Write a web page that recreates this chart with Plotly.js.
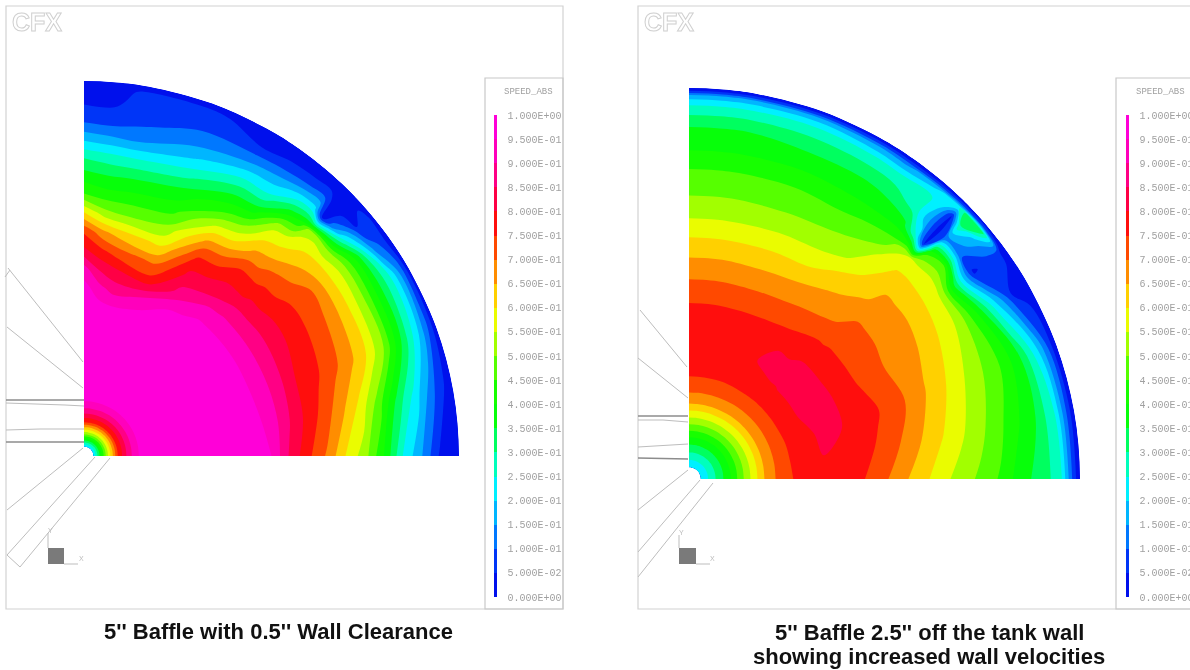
<!DOCTYPE html>
<html>
<head>
<meta charset="utf-8">
<script src="https://cdn.plot.ly/plotly-3.0.1.min.js"></script>
<style>
html,body{margin:0;padding:0;background:#fff;overflow:hidden}
#plot{width:1190px;height:670px}
.annotation-text{filter:blur(0.5px)}
.annotation-text[data-unformatted="<b>CFX</b>"]{fill:#fff !important;stroke:#d0d0d0;stroke-width:1px}
.contourcarpetlayer,.contourlayer,.cbfills,.colorbar text{filter:blur(0.6px)}
</style>
</head>
<body>
<div id="plot"></div>
<script>
// Band colours from 0 to 1 in steps of 0.05
const bandColors = ['#0010ec','#0050ff','#0090ff','#00c8ff','#00ffff','#00ffa8','#00ff50','#08ff00','#18ff00','#58ff00','#a0ff00','#e8ff00','#ffd800','#ff9800','#ff5800','#ff1400','#ff0030','#ff0070','#ff00a8','#ff00d8'];
const tickValues = [0,0.05,0.1,0.15,0.2,0.25,0.3,0.35,0.4,0.45,0.5,0.55,0.6,0.65,0.7,0.75,0.8,0.85,0.9,0.95,1];
const tickLabels = ['0.000E+00','5.000E-02','1.000E-01','1.500E-01','2.000E-01','2.500E-01','3.000E-01','3.500E-01','4.000E-01','4.500E-01','5.000E-01','5.500E-01','6.000E-01','6.500E-01','7.000E-01','7.500E-01','8.000E-01','8.500E-01','9.000E-01','9.500E-01','1.000E+00'];
const thetas = [0,10,20,30,36,40,43,45,47,50,55,60,70,80,85,90];

// Left panel: speed along each ray (rows = thetas, columns = ringsLeft)
const ringsLeft = [0.025,0.06,0.09,0.12,0.15,0.2,0.3,0.4,0.45,0.5,0.55,0.6,0.65,0.7,0.75,0.8,0.85,0.9,0.95,0.98,1];
const hubLeft = [0.2,0.52,0.75,0.88,0.96,0.97,0.97];
const speedLeft = [
 [.97,.97,.95,.84,.76,.69,.595,.52,.40,.25,.155,.04,.02,.005],
 [.97,.97,.94,.86,.79,.73,.66,.58,.47,.33,.22,.10,.04,.01],
 [.97,.97,.93,.87,.80,.765,.72,.67,.60,.50,.35,.20,.09,.01],
 [.97,.97,.93,.87,.82,.77,.74,.69,.62,.52,.38,.24,.12,.015],
 [.97,.97,.93,.87,.82,.77,.74,.70,.62,.53,.38,.13,.07,.015],
 [.97,.97,.93,.87,.81,.76,.72,.67,.62,.50,.25,.05,.08,.02],
 [.97,.97,.93,.87,.81,.76,.71,.65,.60,.53,.12,.03,.03,.01],
 [.97,.97,.93,.87,.80,.75,.70,.63,.58,.52,.03,.02,.02,.01],
 [.97,.97,.93,.86,.80,.75,.68,.62,.55,.42,.22,.08,.03,.01],
 [.97,.97,.93,.85,.80,.75,.67,.60,.53,.37,.22,.07,.03,.01],
 [.97,.96,.90,.83,.78,.70,.60,.50,.38,.26,.17,.06,.03,.01],
 [.97,.95,.87,.82,.77,.68,.57,.45,.36,.26,.15,.05,.03,.01],
 [.97,.90,.77,.69,.59,.51,.43,.37,.28,.19,.12,.075,.06,.02],
 [.96,.88,.81,.72,.62,.50,.42,.35,.26,.15,.09,.07,.06,.02],
 [.97,.92,.84,.76,.66,.52,.42,.35,.27,.16,.07,.04,.03,.02],
 [.97,.97,.92,.81,.74,.60,.45,.37,.29,.18,.08,.04,.03,.02]
];

// Right panel
const ringsRight = [0.03,0.06,0.1,0.15,0.2,0.25,0.3,0.35,0.4,0.45,0.5,0.55,0.6,0.65,0.7,0.75,0.8,0.85,0.9,0.95,0.98,0.99,1];
const hubRight = [0.2,0.28,0.38,0.53,0.67,0.74];
const speedRight = [
 [.77,.77,.77,.75,.71,.66,.615,.565,.525,.485,.44,.37,.33,.27,.10,.05,.005],
 [.78,.80,.785,.77,.74,.70,.655,.61,.565,.52,.47,.41,.35,.25,.10,.05,.005],
 [.78,.805,.81,.78,.76,.73,.69,.645,.60,.55,.50,.445,.36,.21,.09,.04,.005],
 [.79,.815,.815,.78,.745,.71,.69,.665,.635,.585,.535,.40,.22,.05,.03,.02,.005],
 [.79,.815,.815,.775,.745,.715,.695,.67,.645,.60,.54,.30,.04,.08,.06,.03,.005],
 [.79,.815,.815,.775,.745,.72,.695,.67,.645,.605,.56,.45,.12,.18,.32,.10,.005],
 [.79,.815,.815,.775,.745,.72,.695,.67,.645,.61,.55,.42,.12,.30,.35,.10,.005],
 [.79,.815,.815,.775,.74,.71,.685,.65,.63,.605,.55,.05,.03,.05,.25,.10,.005],
 [.79,.81,.81,.775,.74,.70,.675,.64,.615,.58,.54,.25,.15,.20,.22,.08,.005],
 [.79,.81,.80,.77,.735,.69,.66,.625,.585,.55,.47,.37,.28,.27,.18,.07,.005],
 [.79,.805,.80,.76,.725,.68,.645,.60,.54,.50,.45,.38,.33,.25,.14,.06,.005],
 [.79,.80,.785,.755,.715,.675,.63,.57,.53,.485,.44,.385,.34,.26,.15,.07,.005],
 [.78,.78,.775,.75,.71,.665,.62,.57,.52,.48,.445,.39,.34,.27,.17,.07,.005],
 [.78,.78,.77,.75,.71,.665,.62,.565,.52,.48,.445,.39,.35,.27,.17,.07,.005],
 [.78,.78,.77,.75,.71,.665,.62,.565,.52,.48,.445,.39,.35,.27,.17,.07,.005],
 [.78,.78,.77,.75,.71,.665,.62,.565,.52,.48,.445,.39,.35,.27,.17,.07,.005]
];

const W = 1190, H = 670;
const px = v => v / W, py = v => 1 - v / H;
const leftP = {cx:84, cy:456, R:375, x0:6, x1:563};
const rightP = {cx:689, cy:479, R:391, x0:638, x1:1190};
const frameTop = 6, frameBottom = 609;

// Colour scale laid out so each contour band takes its own colour
const colorscale = [[0,bandColors[0]]];
bandColors.forEach((c,k) => colorscale.push([(k+1)/21,c]));
colorscale.push([1,bandColors[19]]);

function panel(name, rings, hub, rows, xa, ya, barX) {
  const X = thetas.map(t => rings.map(r => r*Math.cos(t*Math.PI/180)));
  const Y = thetas.map(t => rings.map(r => r*Math.sin(t*Math.PI/180)));
  const hidden = {showgrid:false,showline:false,showticklabels:'none',startline:false,endline:false,minorgridcount:0,ticks:''};
  return [
    {type:'carpet',carpet:name,a:rings,b:thetas,x:X,y:Y,xaxis:xa,yaxis:ya,
     aaxis:Object.assign({smoothing:0},hidden),baxis:Object.assign({smoothing:1},hidden)},
    {type:'contourcarpet',carpet:name,a:rings,b:thetas,z:rows.map(r => hub.concat(r)),xaxis:xa,yaxis:ya,
     autocontour:false,contours:{start:0,end:1,size:0.05,coloring:'fill',showlines:false},line:{width:0},
     colorscale:colorscale,zmin:0,zmax:1,zauto:false,showscale:true,
     colorbar:{thicknessmode:'pixels',thickness:3,lenmode:'pixels',len:482,xref:'paper',yref:'paper',
       x:px(barX),xanchor:'left',y:py(597),yanchor:'bottom',xpad:0,ypad:0,outlinewidth:0,borderwidth:0,
       tickmode:'array',tickvals:tickValues,ticktext:tickLabels,ticks:'outside',ticklen:9,tickcolor:'rgba(255,255,255,0)',
       tickfont:{family:'Liberation Mono',size:10,color:'#a0a0a0'}}}
  ];
}

const gray = '#bdbdbd', dark = '#8c8c8c';
function ln(x0,y0,x1,y1,c,w){return {type:'line',xref:'paper',yref:'paper',x0:px(x0),y0:py(y0),x1:px(x1),y1:py(y1),line:{color:c||gray,width:w||1},layer:'above'};}
function box(x0,y0,x1,y1,c){return {type:'rect',xref:'paper',yref:'paper',x0:px(x0),y0:py(y0),x1:px(x1),y1:py(y1),line:{color:c||'#d2d2d2',width:1.2},fillcolor:'rgba(0,0,0,0)',layer:'below'};}
function sq(x0,y0,x1,y1){return {type:'rect',xref:'paper',yref:'paper',x0:px(x0),y0:py(y0),x1:px(x1),y1:py(y1),line:{width:0},fillcolor:'#7a7a7a'};}

const shapes = [
  box(6,frameTop,563,frameBottom), box(485,78,563,frameBottom,'#c8c8c8'),
  box(638,frameTop,1240,frameBottom), box(1116,78,1240,frameBottom,'#c8c8c8'),
  // left geometry
  ln(8,268,83,362), ln(5,277,10,270), ln(7,327,83,388),
  ln(6,400,84,400,dark,1.5), ln(6,403,65,405), ln(65,405,84,406),
  ln(6,430,40,429), ln(40,429,84,429), ln(6,442,84,442,dark,1.5),
  ln(83,448,7,510), ln(95,457,7,555), ln(110,458,20,567), ln(7,555,20,567),
  sq(48,548,64,564), ln(48,548,48,533), ln(64,564,78,564),
  // right geometry
  ln(640,310,687,367), ln(638,358,688,398),
  ln(638,416,688,416,dark,1.5), ln(638,420,663,420), ln(663,420,688,422),
  ln(638,447,688,444), ln(638,458,688,459,dark,1.5),
  ln(688,470,638,510), ln(700,480,638,552), ln(713,483,638,577),
  sq(679,548,696,564), ln(679,548,679,535), ln(696,564,710,564)
];

function note(text,x,y,size,color,family,bold){
  return {xref:'paper',yref:'paper',x:px(x),y:py(y),showarrow:false,xanchor:'center',yanchor:'middle',text:bold?'<b>'+text+'</b>':text,
    font:{family:family,size:size,color:color}};
}
const sans = 'Liberation Sans';
const annotations = [
  note("5'' Baffle with 0.5'' Wall Clearance",278,631,22,'#111',sans,true),
  note("5'' Baffle 2.5'' off the tank wall",929,632,22,'#111',sans,true),
  note("showing increased wall velocities",929,656,22,'#111',sans,true),
  note('CFX',37,22,25,'#d0d0d0',sans,true),
  note('CFX',669,22,25,'#d0d0d0',sans,true),
  note('SPEED_ABS',528,92,9,'#a0a0a0','Liberation Mono',false),
  note('SPEED_ABS',1160,92,9,'#a0a0a0','Liberation Mono',false),
  note('Y',50,530,7,'#bbb',sans,false),
  note('X',81,558,7,'#bbb',sans,false),
  note('Y',681,532,7,'#bbb',sans,false),
  note('X',712,558,7,'#bbb',sans,false)
];

const axis = (dom,range,anchor) => ({domain:dom,range:range,visible:false,fixedrange:true,anchor:anchor});
const layout = {
  width:W,height:H,margin:{l:0,r:0,t:0,b:0,autoexpand:false},paper_bgcolor:'#fff',plot_bgcolor:'rgba(0,0,0,0)',showlegend:false,
  xaxis:axis([px(leftP.x0),px(leftP.x1)],[(leftP.x0-leftP.cx)/leftP.R,(leftP.x1-leftP.cx)/leftP.R],'y'),
  yaxis:axis([py(frameBottom),py(frameTop)],[(leftP.cy-frameBottom)/leftP.R,(leftP.cy-frameTop)/leftP.R],'x'),
  xaxis2:axis([px(rightP.x0),1],[(rightP.x0-rightP.cx)/rightP.R,(rightP.x1-rightP.cx)/rightP.R],'y2'),
  yaxis2:axis([py(frameBottom),py(frameTop)],[(rightP.cy-frameBottom)/rightP.R,(rightP.cy-frameTop)/rightP.R],'x2'),
  shapes:shapes,annotations:annotations
};
const traces = panel('leftCarpet',ringsLeft,hubLeft,speedLeft,'x','y',494)
  .concat(panel('rightCarpet',ringsRight,hubRight,speedRight,'x2','y2',1126));
Plotly.newPlot('plot',traces,layout,{displayModeBar:false,staticPlot:true});
</script>
</body>
</html>
